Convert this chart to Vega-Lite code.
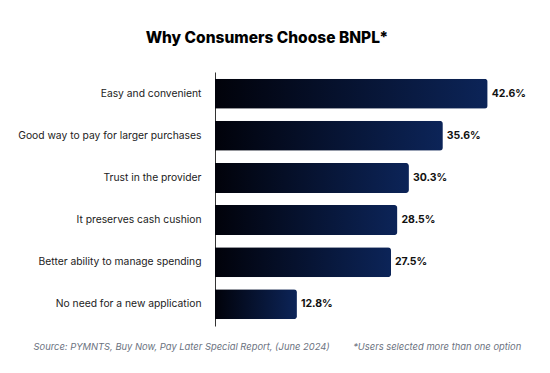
{
  "$schema": "https://vega.github.io/schema/vega-lite/v6.json",
  "width": 288,
  "height": 254,
  "autosize": {"type": "none"},
  "padding": {"left": 215, "top": 72, "right": 47, "bottom": 47},
  "background": "white",
  "view": {"stroke": null},
  "title": {
    "text": "Why Consumers Choose BNPL*",
    "font": "Inter",
    "fontSize": 15.5,
    "fontWeight": 800,
    "color": "#000000",
    "anchor": "middle",
    "frame": "group",
    "dx": -92,
    "offset": 26
  },
  "data": {
    "values": [
      {"reason": "Easy and convenient", "share": 0.426},
      {"reason": "Good way to pay for larger purchases", "share": 0.356},
      {"reason": "Trust in the provider", "share": 0.303},
      {"reason": "It preserves cash cushion", "share": 0.285},
      {"reason": "Better ability to manage spending", "share": 0.275},
      {"reason": "No need for a new application", "share": 0.128}
    ]
  },
  "encoding": {
    "y": {
      "field": "reason",
      "type": "nominal",
      "sort": null,
      "scale": {"paddingInner": 0.29, "paddingOuter": 0.16},
      "axis": {
        "title": null,
        "ticks": false,
        "domain": true,
        "domainColor": "#333333",
        "domainWidth": 1,
        "labelPadding": 14,
        "labelFont": "Inter",
        "labelFontSize": 10.3,
        "labelColor": "#222222",
        "labelLimit": 300
      }
    },
    "x": {
      "field": "share",
      "type": "quantitative",
      "scale": {"domain": [0, 0.45], "nice": false},
      "axis": {
        "grid": false,
        "domain": false,
        "ticks": false,
        "labels": false,
        "title": "Source: PYMNTS, Buy Now, Pay Later Special Report, (June 2024)\u2003\u2003\u2002*Users selected more than one option",
        "titleFont": "Inter",
        "titleFontSize": 9.4,
        "titleFontStyle": "italic",
        "titleFontWeight": "normal",
        "titleColor": "#6b7280",
        "titleAnchor": "start",
        "titleAlign": "left",
        "titleBaseline": "middle",
        "titleX": -182,
        "titleY": 20
      }
    }
  },
  "layer": [
    {
      "mark": {
        "type": "bar",
        "cornerRadiusEnd": 3,
        "color": {
          "gradient": "linear",
          "x1": 0, "y1": 0, "x2": 1, "y2": 0,
          "stops": [
            {"offset": 0, "color": "#01020a"},
            {"offset": 1, "color": "#0c2458"}
          ]
        }
      }
    },
    {
      "mark": {
        "type": "text",
        "align": "left",
        "baseline": "middle",
        "dx": 4,
        "font": "Inter",
        "fontSize": 10.5,
        "fontWeight": "bold",
        "color": "#111111"
      },
      "encoding": {
        "text": {"field": "share", "type": "quantitative", "format": ".1%"}
      }
    }
  ]
}
